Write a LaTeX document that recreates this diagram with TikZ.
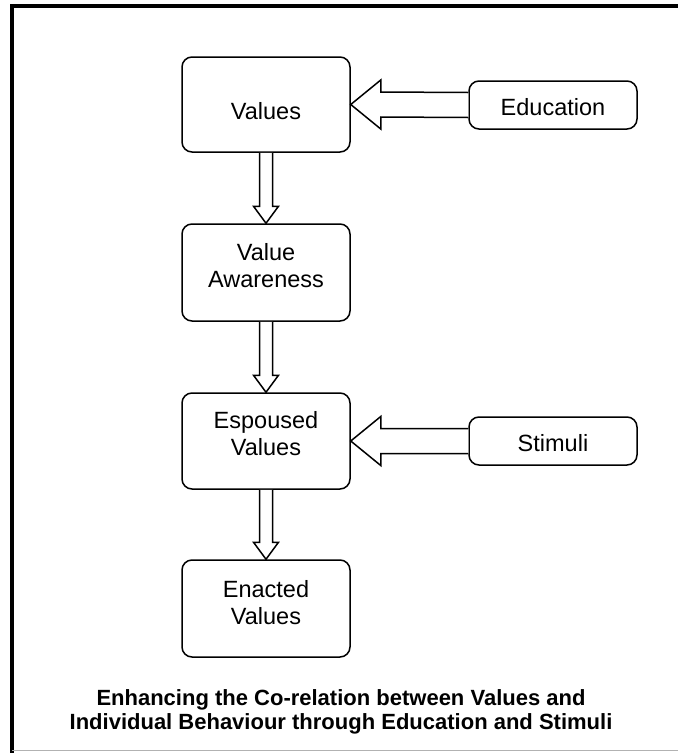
\documentclass[tikz,border=0pt]{standalone}
\usepackage{fontspec}
\setmainfont{Liberation Sans}
\usetikzlibrary{calc}

\tikzset{
  box/.style={draw, line width=1.5pt, rounded corners=10pt, minimum width=168pt, inner sep=0pt},
  boxtext/.style={align=center, font=\fontsize{23.5}{27}\selectfont},
  blockarrow/.style={draw, line width=1.5pt, line join=miter, fill=white},
}

% hollow arrow pointing down from box #1 to box #2
\newcommand{\downblock}[2]{%
  \draw[blockarrow] ($(#1.south)+(-6.5,0)$) -- ($(#2.north)+(-6.5,-17)$) -- ($(#2.north)+(-12.5,-17)$)
    -- (#2.north) -- ($(#2.north)+(12.5,-17)$) -- ($(#2.north)+(6.5,-17)$) -- ($(#1.south)+(6.5,0)$);}
% hollow arrow pointing left from box #1 to box #2
\newcommand{\leftblock}[2]{%
  \draw[blockarrow] ($(#1.west)+(0,-12.5)$) -- ($(#2.east)+(30,-12.5)$) -- ($(#2.east)+(30,-24.5)$)
    -- (#2.east) -- ($(#2.east)+(30,24.5)$) -- ($(#2.east)+(30,12.5)$) -- ($(#1.west)+(0,12.5)$);}

\begin{document}
\begin{tikzpicture}[x=1pt, y=-1pt]
  \useasboundingbox (0,0) rectangle (678,753);
  % frame
  \draw[line width=4pt] (12,753) -- (12,6) -- (678,6);
  \draw[line width=1pt, gray!60] (12,750) -- (678,750);

  % main column
  \node[box, minimum height=95pt] (values) at (266,104.5) {};
  \node[box, minimum height=97pt] (awareness) at (266,272.5) {};
  \node[box, minimum height=96pt] (espoused) at (266,441) {};
  \node[box, minimum height=97pt] (enacted) at (266,608.5) {};
  \node[boxtext] (valuestext) at ($(values)+(0,7)$) {Values};
  \node[boxtext] (awarenesstext) at ($(awareness)+(0,-7)$) {Value\\Awareness};
  \node[boxtext] (espousedtext) at ($(espoused)+(0,-7)$) {Espoused\\Values};
  \node[boxtext] (enactedtext) at ($(enacted)+(0,-6)$) {Enacted\\Values};

  % inputs
  \node[box, minimum height=48pt] (education) at (553,105) {};
  \node[box, minimum height=48pt] (stimuli) at (553,441) {};
  \node[boxtext] (educationtext) at ($(education)+(0,2)$) {Education};
  \node[boxtext] (stimulitext) at ($(stimuli)+(0,2)$) {Stimuli};

  \downblock{values}{awareness}
  \downblock{awareness}{espoused}
  \downblock{espoused}{enacted}
  \leftblock{education}{values}
  \leftblock{stimuli}{espoused}

  \node[align=center, font=\bfseries\fontsize{22}{23.5}\selectfont] (caption) at (341,712)
    {Enhancing the Co-relation between Values and\\Individual Behaviour through Education and Stimuli};
\end{tikzpicture}
\end{document}
